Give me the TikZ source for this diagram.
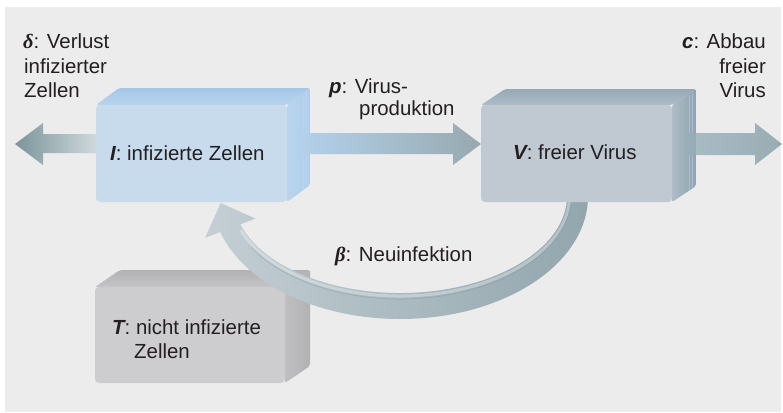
\documentclass[tikz,border=0pt]{standalone}
\usepackage{fontspec}
\setmainfont{Liberation Sans}
\newfontfamily\grk{Liberation Serif}
\definecolor{bg}{HTML}{ECECEC}
\definecolor{txt}{HTML}{231F20}
\definecolor{Ifront}{HTML}{C7DBED}
\definecolor{Itop}{HTML}{A5C7E7}
\definecolor{Itopl}{HTML}{B8D4EE}
\definecolor{Iside}{HTML}{B0CEEA}
\definecolor{Vfront}{HTML}{C0C8D2}
\definecolor{Vtop}{HTML}{97A9B6}
\definecolor{Vtopl}{HTML}{AEBCC7}
\definecolor{Vside}{HTML}{8FA3B0}
\definecolor{Tfront}{HTML}{CDCDCF}
\definecolor{Ttop}{HTML}{B2B2B4}
\definecolor{Ttopl}{HTML}{C4C4C6}
\definecolor{Tside}{HTML}{BFBFC1}
\definecolor{aDark}{HTML}{7A959A}
\definecolor{aLight}{HTML}{D3DCE0}
\definecolor{bLeft}{HTML}{C4CFD4}
\definecolor{bRight}{HTML}{92A6AD}
\definecolor{bLine}{HTML}{7E959D}
\definecolor{pLeft}{HTML}{B3D0EA}
\definecolor{pMid}{HTML}{C6D0D5}
\definecolor{pRight}{HTML}{97A9B0}
\definecolor{cLeft}{HTML}{A9BBC4}
\definecolor{cMid}{HTML}{BFCBD0}
\definecolor{cRight}{HTML}{9AACB3}
\definecolor{cBand}{HTML}{8EA4AF}
\newcommand{\mybox}[9]{%
  \path[#8, rounded corners=2] (#1,#2) -- ({#1+#5},{#2+#6}) -- ({#3+#5},{#2+#6}) -- (#3,#2) -- cycle;
  \path[#9, rounded corners=2] (#3,#2) -- ({#3+#5},{#2+#6}) -- ({#3+#5},{#4+#6}) -- (#3,#4) -- cycle;
  \fill[#7, rounded corners=4] (#1,#2) rectangle (#3,#4);
}
\newcommand{\mylayers}[7]{%
  \draw[#7, line width=0.8] ({#3+0.72*#5},{#2+0.72*#6+2}) -- ({#3+0.72*#5},{#4+0.72*#6});
  \draw[#7, line width=0.8] ({#3+0.86*#5},{#2+0.86*#6+2}) -- ({#3+0.86*#5},{#4+0.86*#6});
}
\begin{document}
\begin{tikzpicture}[x=1bp,y=-1bp,
  lbl/.style={inner sep=0pt, text=txt, font=\fontsize{20.5}{24}\selectfont}]
\useasboundingbox (0,0) rectangle (783,412);
\fill[white] (0,0) rectangle (783,412);
\fill[bg] (5,7) rectangle (781,412);

% left arrow (delta)
\path[left color=aDark, right color=aLight] (100,134) -- (43,134) -- (43,123) -- (15,144) -- (43,165) -- (43,153) -- (100,153) -- cycle;

% T box
\mybox{95}{287}{285}{383}{25}{-17}{Tfront}{top color=Ttop, bottom color=Ttopl}{left color=Tside, right color=Ttop}

% I box
\mybox{96}{105}{287}{202}{23}{-17}{Ifront}{top color=Itop, bottom color=Itopl}{left color=Itopl, right color=Iside}
\mylayers{96}{105}{287}{202}{23}{-17}{Itopl}

% curved arrow (beta)
\begin{scope}[shift={(400,196)}]
\path[left color=bLeft, right color=bRight]
  (-2:188 and 123) arc[start angle=-2, end angle=163, x radius=188, y radius=123]
  -- (-194.9,41.8) -- (-179.3,7) -- (-144.5,22.6)
  -- (163:167 and 97) arc[start angle=163, end angle=-2, x radius=167, y radius=97] -- cycle;
\draw[white, opacity=0.3, line width=3] (160:169.5 and 100) arc[start angle=160, end angle=0, x radius=169.5, y radius=100];
\draw[bLine, opacity=0.35, line width=1] (150:171.5 and 103) arc[start angle=150, end angle=5, x radius=171.5, y radius=103];
\end{scope}

% V box
\mybox{481}{105}{672}{202}{24}{-16}{Vfront}{top color=Vtop, bottom color=Vtopl}{left color=Vtopl, right color=Vside}
\mylayers{481}{105}{672}{202}{24}{-16}{Vtopl}

% middle arrow (p)
\path[left color=pLeft, middle color=pMid, right color=pRight] (303,133) -- (453,133) -- (453,123) -- (481,144) -- (453,165) -- (453,154) -- (303,154) -- cycle;

% right arrow (c)
\path[left color=cLeft, middle color=cMid, right color=cRight] (688,133) -- (755,133) -- (755,123) -- (782,144) -- (755,165) -- (755,155) -- (688,155) -- cycle;
\fill[cBand, opacity=0.6] (688,133) rectangle (696,155);

% labels
\node[lbl, anchor=base west] (I) at (110,160) {{\bfseries\itshape I}: infizierte Zellen};
\node[lbl, anchor=base west] (V) at (513,159) {{\bfseries\itshape V}: freier Virus};
\node[lbl, anchor=base west] (T1) at (112,334) {{\bfseries\itshape T}: nicht infizierte};
\node[lbl, anchor=base west] (T2) at (134,358) {Zellen};
\node[lbl, anchor=base west] (beta) at (335,261) {{\grk\bfseries\itshape β}: Neuinfektion};
\node[lbl, anchor=base west] (d1) at (23,48) {{\grk\bfseries\itshape δ}: Verlust};
\node[lbl, anchor=base west] (d2) at (24,73) {infizierter};
\node[lbl, anchor=base west] (d3) at (24,97) {Zellen};
\node[lbl, anchor=base west] (p1) at (329,93) {{\bfseries\itshape p}: Virus-};
\node[lbl, anchor=base west] (p2) at (359,115) {produktion};
\node[lbl, anchor=base east] (c1) at (766,48) {{\bfseries\itshape c}: Abbau};
\node[lbl, anchor=base east] (c2) at (766,73) {freier};
\node[lbl, anchor=base east] (c3) at (766,97) {Virus};
\end{tikzpicture}
\end{document}
